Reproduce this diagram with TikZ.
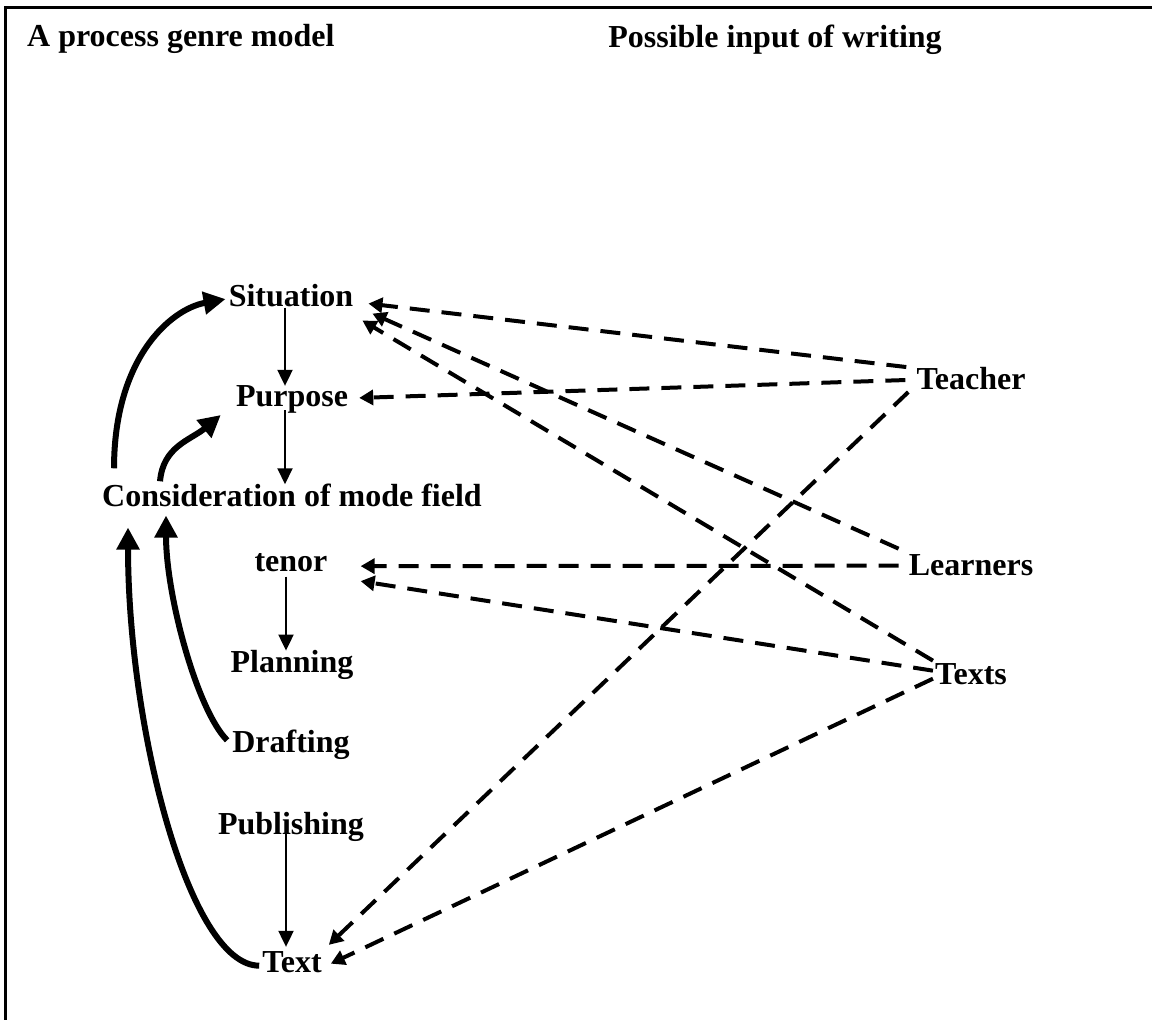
\documentclass[tikz,border=0pt]{standalone}
\usepackage{fontspec}
\setmainfont{Liberation Serif}
\usetikzlibrary{arrows.meta}

\tikzset{
  lbl/.style={font=\fontsize{32}{38}\selectfont\bfseries, inner sep=0pt, anchor=base},
  stepflow/.style={line width=2pt, -{Triangle[length=16pt,width=15pt]}},
  loopback/.style={line width=6pt, -{Triangle[length=22pt,width=22pt]}},
  inputflow/.style={line width=4pt, dash pattern=on 20pt off 12pt, -{Triangle[length=14pt,width=15pt]}}
}

\begin{document}
\begin{tikzpicture}[x=1pt, y=1pt]
  \useasboundingbox (0,0) rectangle (1152,1020);
  % Frame (top and left only)
  \draw[line width=3pt] (5.5,0) -- (5.5,1012) -- (1152,1012);
  % Headings
  \node[lbl, anchor=base west] (head1) at (27,973) {A process genre model};
  \node[lbl] (head2) at (775,972) {Possible input of writing};
  % Process column
  \node[lbl] (sit) at (291,713) {Situation};
  \node[lbl] (purp) at (292,613) {Purpose};
  \node[lbl] (cons) at (292,513) {Consideration of mode field};
  \node[lbl] (ten) at (291,448) {tenor};
  \node[lbl] (plan) at (292,347) {Planning};
  \node[lbl] (draft) at (291,267) {Drafting};
  \node[lbl] (pub) at (291,185) {Publishing};
  \node[lbl] (txt) at (292,47) {Text};
  % Input sources
  \node[lbl] (teach) at (971,630) {Teacher};
  \node[lbl] (learn) at (971,444) {Learners};
  \node[lbl] (texts) at (971,335) {Texts};
  % Steps down the column
  \draw[stepflow] ([xshift=-6pt]sit.south) -- ([xshift=-7pt]purp.north);
  \draw[stepflow] ([xshift=-7pt,yshift=4pt]purp.south) -- ([xshift=-7pt]cons.north);
  \draw[stepflow] ([xshift=-5pt,yshift=-4pt]ten.south) -- ([xshift=-6pt]plan.north);
  \draw[stepflow] ([xshift=-5pt,yshift=3pt]pub.base) -- ([xshift=-6pt,yshift=5pt]txt.north);
  % Recursive loops
  \draw[loopback] ([xshift=12pt,yshift=16pt]cons.north west) .. controls +(0,110) and +(-55,-10) .. ([xshift=-3pt,yshift=-3pt]sit.west);
  \draw[loopback] ([xshift=58pt,yshift=3pt]cons.north west) .. controls +(3,35) and +(-30,-25) .. ([xshift=-15pt,yshift=-1pt]purp.south west);
  \draw[loopback] ([xshift=-3pt,yshift=-3pt]txt.west) .. controls +(-70,0) and +(0,-200) .. ([xshift=26pt,yshift=-20pt]cons.south west);
  \draw[loopback] ([xshift=-5pt,yshift=5pt]draft.west) .. controls +(-30,30) and +(0,-80) .. ([xshift=64pt,yshift=-8pt]cons.south west);
  % Inputs from the right
  \draw[inputflow] ([xshift=-10pt,yshift=12pt]teach.west) -- ([xshift=15pt,yshift=4pt]sit.south east);
  \draw[inputflow] ([xshift=-11pt,yshift=-1pt]teach.west) -- ([xshift=11pt,yshift=2pt]purp.east);
  \draw[inputflow] ([xshift=-8pt,yshift=-13pt]teach.west) -- ([xshift=7pt,yshift=7pt]txt.north east);
  \draw[inputflow] ([xshift=-10pt,yshift=17pt]learn.west) -- ([xshift=19pt,yshift=-6pt]sit.south east);
  \draw[inputflow] ([xshift=-10pt]learn.west) -- ([xshift=33pt,yshift=-3pt]ten.east);
  \draw[inputflow] ([xshift=-2pt,yshift=14pt]texts.west) -- ([xshift=9pt,yshift=-13pt]sit.south east);
  \draw[inputflow] ([xshift=-2pt,yshift=4pt]texts.west) -- ([xshift=33pt,yshift=-18pt]ten.east);
  \draw[inputflow] ([xshift=-2pt,yshift=-4pt]texts.west) -- ([xshift=9pt,yshift=-1pt]txt.east);
\end{tikzpicture}
\end{document}
